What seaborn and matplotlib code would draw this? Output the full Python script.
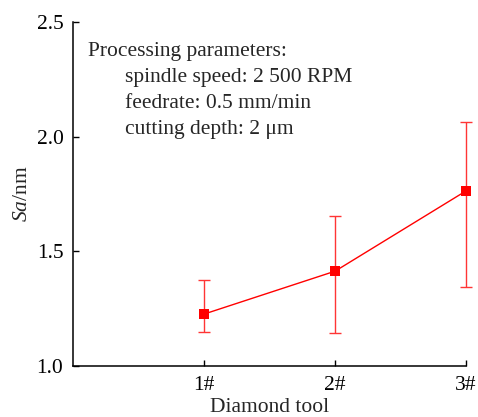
import matplotlib
matplotlib.use("Agg")
import matplotlib.pyplot as plt
import seaborn as sns
import pandas as pd
import numpy as np

categories = ["1#", "2#", "3#"]
sa_mean = [1.227, 1.414, 1.764]
sa_upper = [1.375, 1.655, 2.065]
sa_lower = [1.150, 1.145, 1.343]

sns.set_theme(style="ticks")
plt.rcParams['font.family'] = ['Liberation Serif', 'DejaVu Serif']
plt.rcParams['mathtext.fontset'] = 'custom'
plt.rcParams['mathtext.it'] = 'Liberation Serif:italic'
plt.rcParams['mathtext.rm'] = 'Liberation Serif'

fig = plt.figure(figsize=(4.78, 4.17), dpi=100)
ax = fig.add_axes([0.153, 0.122, 0.822, 0.825])

pos = np.arange(1, len(categories) + 1)
df = pd.DataFrame({"pos": pos, "sa": sa_mean})
yerr = [np.array(sa_mean) - np.array(sa_lower), np.array(sa_upper) - np.array(sa_mean)]
eb = ax.errorbar(pos, sa_mean, yerr=yerr, fmt="none", ecolor="#ff3535", elinewidth=1.0,
                 capsize=4.5, capthick=1.0, zorder=2)
for art in list(eb.lines[1]) + list(eb.lines[2]):
    art.set_clip_on(False)
sns.lineplot(data=df, x="pos", y="sa", ax=ax, color="#ff0000", marker="s",
             markersize=7.5, markeredgewidth=0, linewidth=1.0, zorder=3, clip_on=False)

fs = 15.5
ax.set_xlim(0, 3)
ax.set_ylim(1.0, 2.5)
ax.set_xticks(pos)
ax.set_xticklabels(categories)
ax.set_yticks([1.0, 1.5, 2.0, 2.5])
ax.set_yticklabels(["1.0", "1.5", "2.0", "2.5"])
ax.tick_params(direction="in", length=4, width=1, labelsize=fs, colors="black", pad=7)
for s in ["top", "right"]:
    ax.spines[s].set_visible(False)
for s in ["left", "bottom"]:
    ax.spines[s].set_linewidth(1.1)
    ax.spines[s].set_color("black")

ax.set_xlabel("Diamond tool", fontsize=fs, labelpad=2)
ax.set_ylabel("$Sa$/nm", fontsize=fs, labelpad=3)

ax.text(0.038, 0.915, "Processing parameters:", transform=ax.transAxes, fontsize=fs, va="center", ha="left")
lines = ["spindle speed: 2 500 RPM", "feedrate: 0.5 mm/min", "cutting depth: 2 μm"]
for i, t in enumerate(lines):
    ax.text(0.132, 0.915 - (i + 1) * 0.0757, t, transform=ax.transAxes, fontsize=fs, va="center", ha="left")

fig.savefig("out.png", dpi=100)
